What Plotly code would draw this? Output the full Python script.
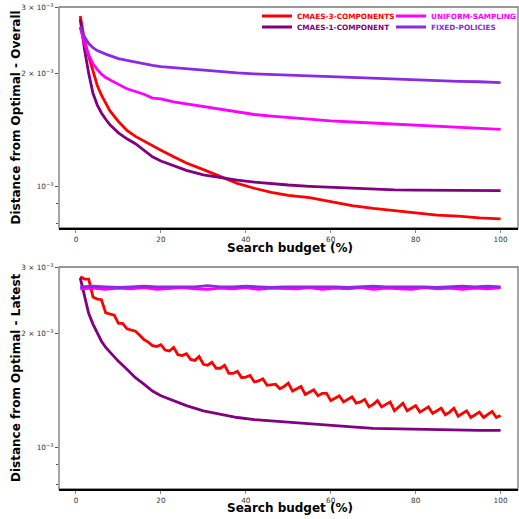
import plotly.graph_objects as go

# ---------------- data ----------------
x_overall = [1, 2, 3, 4, 5, 6, 7, 8, 10, 12, 14, 16, 18, 20, 23, 26, 30, 34, 38, 42,
             46, 50, 55, 60, 65, 70, 75, 80, 85, 90, 95, 100]

overall_cmaes3 = [2.84, 2.45, 2.22, 2.02, 1.86, 1.75, 1.66, 1.59, 1.49, 1.41, 1.36, 1.32,
                  1.285, 1.25, 1.20, 1.155, 1.11, 1.065, 1.02, 0.99, 0.965, 0.948, 0.935,
                  0.912, 0.89, 0.875, 0.862, 0.85, 0.84, 0.835, 0.826, 0.821]
overall_cmaes1 = [2.79, 2.32, 2.00, 1.77, 1.65, 1.57, 1.51, 1.46, 1.39, 1.34, 1.30, 1.25,
                  1.20, 1.17, 1.135, 1.105, 1.075, 1.055, 1.04, 1.028, 1.018, 1.01, 1.002,
                  0.996, 0.99, 0.985, 0.98, 0.979, 0.978, 0.977, 0.976, 0.976]
overall_uniform = [2.65, 2.40, 2.24, 2.12, 2.05, 1.99, 1.95, 1.92, 1.87, 1.82, 1.79, 1.76,
                   1.72, 1.71, 1.68, 1.66, 1.635, 1.61, 1.58, 1.555, 1.54, 1.525, 1.51,
                   1.495, 1.485, 1.475, 1.465, 1.455, 1.445, 1.435, 1.43, 1.42]
overall_fixed = [2.66, 2.50, 2.40, 2.34, 2.30, 2.27, 2.25, 2.23, 2.19, 2.165, 2.14, 2.12,
                 2.10, 2.085, 2.07, 2.055, 2.04, 2.02, 2.005, 1.995, 1.985, 1.98, 1.97,
                 1.96, 1.95, 1.94, 1.935, 1.925, 1.915, 1.905, 1.90, 1.89]

x_latest_cmaes3 = list(range(1, 101))
latest_cmaes3 = [2.83, 2.79, 2.79, 2.50, 2.47, 2.46, 2.27, 2.25, 2.24, 2.13,
                 2.13, 2.06, 2.04, 2.03, 1.98, 1.93, 1.90, 1.86, 1.85, 1.87,
                 1.81, 1.80, 1.84, 1.76, 1.75, 1.77, 1.71, 1.70, 1.74, 1.66,
                 1.65, 1.68, 1.62, 1.62, 1.65, 1.57, 1.57, 1.59, 1.53, 1.535,
                 1.55, 1.49, 1.50, 1.52, 1.46, 1.465, 1.47, 1.43, 1.45, 1.48,
                 1.41, 1.43, 1.45, 1.38, 1.40, 1.42, 1.37, 1.39, 1.39, 1.33,
                 1.35, 1.37, 1.32, 1.34, 1.36, 1.31, 1.32, 1.34, 1.28, 1.30,
                 1.33, 1.28, 1.30, 1.32, 1.25, 1.28, 1.31, 1.25, 1.27, 1.29,
                 1.24, 1.26, 1.28, 1.23, 1.25, 1.27, 1.22, 1.24, 1.27, 1.21,
                 1.23, 1.25, 1.20, 1.22, 1.24, 1.20, 1.22, 1.245, 1.20, 1.215]

x_latest_cmaes1 = x_overall
latest_cmaes1 = [2.81, 2.50, 2.26, 2.12, 2.01, 1.91, 1.84, 1.79, 1.69, 1.61, 1.53, 1.47,
                 1.41, 1.37, 1.33, 1.29, 1.25, 1.225, 1.20, 1.185, 1.175, 1.168, 1.157,
                 1.145, 1.133, 1.123, 1.12, 1.116, 1.113, 1.112, 1.11, 1.11]

x_latest_flat = list(range(1, 101, 3))
latest_fixed = [2.66, 2.67, 2.66, 2.65, 2.66, 2.67, 2.66, 2.66, 2.65, 2.66, 2.68, 2.66,
                2.66, 2.67, 2.66, 2.65, 2.66, 2.66, 2.67, 2.66, 2.66, 2.65, 2.66, 2.67,
                2.66, 2.66, 2.67, 2.66, 2.65, 2.66, 2.67, 2.66, 2.67, 2.66]
latest_uniform = [2.63, 2.64, 2.62, 2.64, 2.63, 2.65, 2.62, 2.64, 2.65, 2.63, 2.62, 2.64,
                  2.63, 2.65, 2.62, 2.64, 2.64, 2.63, 2.65, 2.62, 2.64, 2.63, 2.65, 2.62,
                  2.64, 2.63, 2.62, 2.65, 2.63, 2.64, 2.62, 2.64, 2.63, 2.65]

names = ["CMAES-3-COMPONENTS", "CMAES-1-COMPONENT", "UNIFORM-SAMPLING", "FIXED-POLICIES"]
colors = ["#ff0000", "#800080", "#ff00ff", "#8a2be2"]
y_ticks = [0.001, 0.002, 0.003]
y_ticktext = ["10<sup>−3</sup>", "2 × 10<sup>−3</sup>", "3 × 10<sup>−3</sup>"]
x_ticks = [0, 20, 40, 60, 80, 100]

def s(v):
    return [a * 1e-3 for a in v]

fig = go.Figure()
legend_ids = ["legend", "legend3", "legend2", "legend4"]
top = [(x_overall, overall_cmaes3), (x_overall, overall_cmaes1),
       (x_overall, overall_uniform), (x_overall, overall_fixed)]
bottom = [(x_latest_cmaes3, latest_cmaes3), (x_latest_cmaes1, latest_cmaes1),
          (x_latest_flat, latest_uniform), (x_latest_flat, latest_fixed)]
for i in range(4):
    fig.add_trace(go.Scatter(x=top[i][0], y=s(top[i][1]), mode="lines", name=names[i],
                             line=dict(color=colors[i], width=2.8), legend=legend_ids[i],
                             xaxis="x", yaxis="y"))
for i in range(4):
    fig.add_trace(go.Scatter(x=bottom[i][0], y=s(bottom[i][1]), mode="lines", name=names[i],
                             line=dict(color=colors[i], width=2.8), showlegend=False,
                             xaxis="x2", yaxis="y2"))

tickfont = dict(family="DejaVu Sans", size=7.3, color="#333333")
xax = dict(range=[-4, 104.1], tickvals=x_ticks, ticks="outside", ticklen=3, tickcolor="#888",
           tickfont=tickfont, showgrid=False, zeroline=False, showline=True,
           linecolor="black", linewidth=1.5)
yax = dict(type="log", range=[-3.11, -2.5225], tickvals=y_ticks, ticktext=y_ticktext,
           ticks="outside", ticklen=3, tickcolor="#555", tickfont=tickfont, showgrid=False,
           zeroline=False, showline=False,
           minor=dict(tickvals=[0.0008, 0.0009], ticks="outside", ticklen=2, tickcolor="#555"))

W, H, L, R, T, B = 519, 519, 59, 1, 7, 30
PW, PH = W - L - R, H - T - B

def px(xp):
    return (xp - L) / PW

def py(yp):
    return (H - B - yp) / PH

fig.update_layout(
    width=W, height=H, margin=dict(l=L, r=R, t=T, b=B, autoexpand=False),
    paper_bgcolor="white", plot_bgcolor="white",
    xaxis=dict(domain=[0, 1], anchor="y", **xax),
    yaxis=dict(domain=[py(228), 1], anchor="x", **yax),
    xaxis2=dict(domain=[0, 1], anchor="y2", **xax),
    yaxis2=dict(domain=[0, py(267)], anchor="x2", **yax),
)

leg_font = dict(family="DejaVu Sans", size=7.3, weight="bold")
legpos = {"legend": (257, 16, colors[0]), "legend3": (257, 27, colors[1]),
          "legend2": (391, 16, colors[2]), "legend4": (391, 27, colors[3])}
for k, (lx, ly, c) in legpos.items():
    fig.update_layout({k: dict(x=px(lx), y=py(ly), xanchor="left", yanchor="middle",
                               bgcolor="rgba(0,0,0,0)", font=dict(color=c, **leg_font))})

for xr, yr in [("x", "y"), ("x2", "y2")]:
    fig.add_shape(type="rect", xref=f"{xr} domain", yref=f"{yr} domain", x0=0, x1=1,
                  y0=0, y1=1, line=dict(color="#777777", width=1.3), layer="below")

title_font = dict(family="DejaVu Sans", size=12, color="black", weight="bold")
ann = [
    ("Search budget (%)", px(290), py(248), 0),
    ("Search budget (%)", px(290), py(508), 0),
    ("Distance from Optimal - Overall", px(16), py(117.5), -90),
    ("Distance from Optimal - Latest", px(16), py(378), -90),
]
for text, ax_, ay_, ang in ann:
    fig.add_annotation(text=text, x=ax_, y=ay_, xref="paper", yref="paper", showarrow=False,
                       xanchor="center", yanchor="middle", textangle=ang, font=title_font)

fig.write_html("out.html")
